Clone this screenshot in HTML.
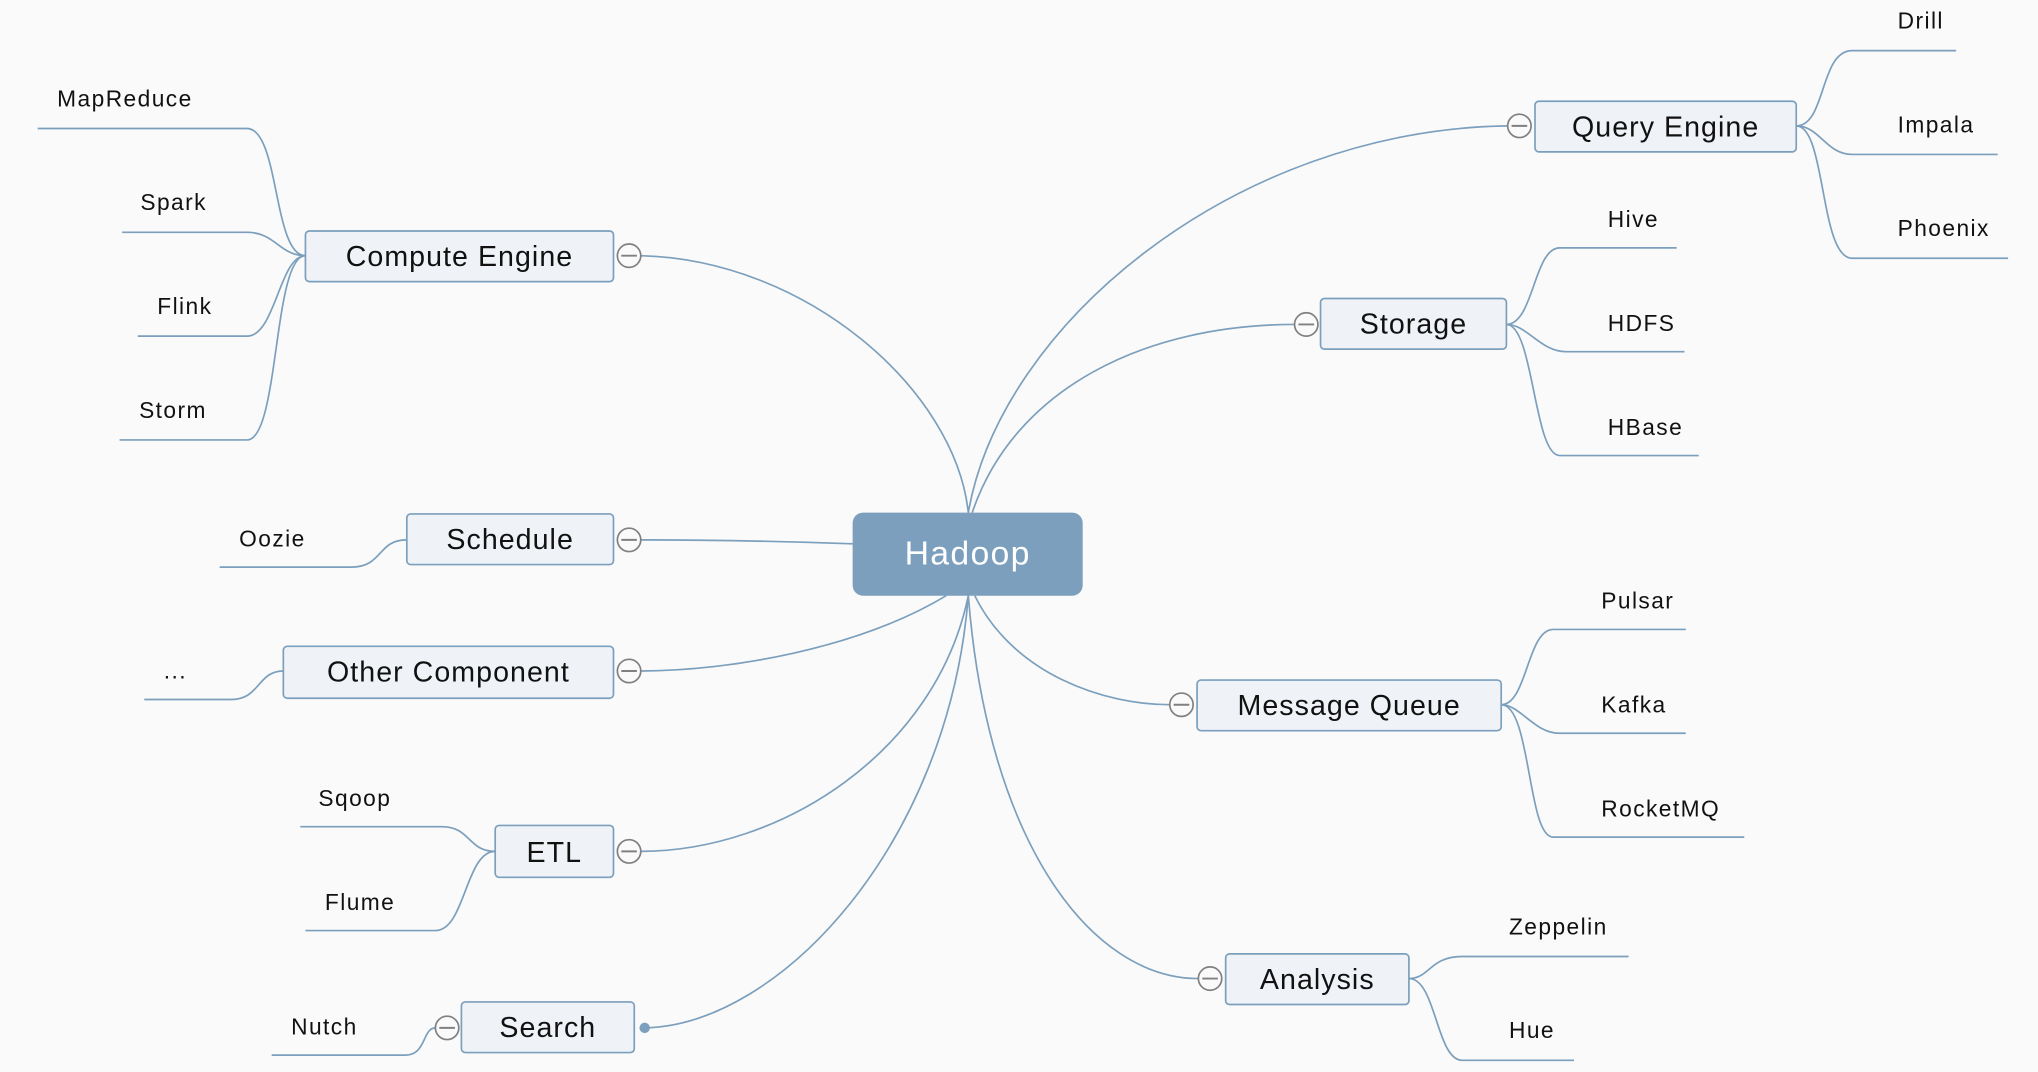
<!DOCTYPE html>
<html><head><meta charset="utf-8"><style>
html,body{margin:0;padding:0;background:#fafafa;}
svg{display:block;}
text{font-family:"Liberation Sans",sans-serif;fill:#111;}
.leaf{font-size:17.5px;letter-spacing:1.1px;}
.box{font-size:22px;text-anchor:middle;letter-spacing:0.8px;}
</style></head><body>
<svg width="2038" height="1072" viewBox="0 0 1568 826" preserveAspectRatio="none" xmlns="http://www.w3.org/2000/svg">
<rect width="1568" height="826" fill="#fafafa"/>
<g fill="none" stroke="#7b9fbc" stroke-width="1.3">
<path d="M745,395 C735,300 620,200 493,197"/>
<path d="M745,395 C770,250 950,100 1160,97"/>
<path d="M748,395 C780,300 880,250 996,250"/>
<path d="M656,419 C600,417 540,416 493,416"/>
<path d="M728,459 C660,500 560,517 493,517"/>
<path d="M745,459 C720,580 600,656 493,656"/>
<path d="M745,459 C730,650 600,790 496,792"/>
<path d="M750,459 C780,520 850,543 900,543"/>
<path d="M745,459 C760,650 840,754 922,754"/>
<path d="M29,99 H190 C215,99 210,197 235,197"/>
<path d="M94,179 H190 C212,179 215,197 235,197"/>
<path d="M106,259 H190 C212,259 215,197 235,197"/>
<path d="M92,339 H190 C215,339 210,197 235,197"/>
<path d="M169,437 H270 C295,437 290,416 313,416"/>
<path d="M111,539 H178 C200,539 198,517 218,517"/>
<path d="M231,637 H340 C362,637 360,656 381,656"/>
<path d="M235,717 H335 C358,717 358,656 381,656"/>
<path d="M209,813 H312 C328,813 325,792 335,792"/>
<path d="M1382,97 C1405,97 1400,39 1425,39 H1505"/>
<path d="M1382,97 C1400,97 1405,119 1425,119 H1537"/>
<path d="M1382,97 C1405,97 1400,199 1425,199 H1545"/>
<path d="M1159,250 C1180,250 1180,191 1200,191 H1290"/>
<path d="M1159,250 C1175,250 1185,271 1205,271 H1296"/>
<path d="M1159,250 C1180,250 1180,351 1200,351 H1307"/>
<path d="M1155,543 C1175,543 1175,485 1195,485 H1297"/>
<path d="M1155,543 C1170,543 1180,565 1200,565 H1297"/>
<path d="M1155,543 C1178,543 1175,645 1195,645 H1342"/>
<path d="M1084,754 C1100,754 1100,737 1125,737 H1253"/>
<path d="M1084,754 C1105,754 1105,817 1125,817 H1211"/>
</g>
<rect x="656" y="395" width="177" height="64" rx="8" fill="#7b9fbc"/>
<text x="744.5" y="435" style="font-size:26px;fill:#fff;text-anchor:middle;letter-spacing:1px">Hadoop</text>
<g fill="#eff3f7" stroke="#7b9fbc" stroke-width="1.3">
<rect x="235" y="178" width="237" height="39" rx="3"/>
<rect x="313" y="396" width="159" height="39" rx="3"/>
<rect x="218" y="498" width="254" height="40" rx="3"/>
<rect x="381" y="636" width="91" height="40" rx="3"/>
<rect x="355" y="772" width="133" height="39" rx="3"/>
<rect x="1181" y="78" width="201" height="39" rx="3"/>
<rect x="1016" y="230" width="143" height="39" rx="3"/>
<rect x="921" y="524" width="234" height="39" rx="3"/>
<rect x="943" y="735" width="141" height="39" rx="3"/>
</g>
<g fill="#fafafa" stroke="#808080" stroke-width="1.3">
<circle cx="484" cy="197" r="9"/><circle cx="484" cy="416" r="9"/><circle cx="484" cy="517" r="9"/>
<circle cx="484" cy="656" r="9"/><circle cx="344" cy="792" r="9"/><circle cx="1169" cy="97" r="9"/>
<circle cx="1005" cy="250" r="9"/><circle cx="909" cy="543" r="9"/><circle cx="931" cy="754" r="9"/>
</g>
<g stroke="#808080" stroke-width="1.5">
<path d="M478,197h12M478,416h12M478,517h12M478,656h12M338,792h12M1163,97h12M999,250h12M903,543h12M925,754h12"/>
</g>
<circle cx="496" cy="792" r="4" fill="#7b9fbc"/>
<text class="box" x="353.5" y="205">Compute Engine</text>
<text class="box" x="392.5" y="423">Schedule</text>
<text class="box" x="345" y="525">Other Component</text>
<text class="box" x="426.5" y="664">ETL</text>
<text class="box" x="421.5" y="799">Search</text>
<text class="box" x="1281.5" y="105">Query Engine</text>
<text class="box" x="1087.5" y="257">Storage</text>
<text class="box" x="1038" y="551">Message Queue</text>
<text class="box" x="1013.5" y="762">Analysis</text>
<text class="leaf" x="44" y="82">MapReduce</text>
<text class="leaf" x="108" y="162">Spark</text>
<text class="leaf" x="121" y="242">Flink</text>
<text class="leaf" x="107" y="322">Storm</text>
<text class="leaf" x="184" y="421">Oozie</text>
<text class="leaf" x="126" y="523">...</text>
<text class="leaf" x="245" y="621">Sqoop</text>
<text class="leaf" x="250" y="701">Flume</text>
<text class="leaf" x="224" y="797">Nutch</text>
<text class="leaf" x="1460" y="22">Drill</text>
<text class="leaf" x="1460" y="102">Impala</text>
<text class="leaf" x="1460" y="182">Phoenix</text>
<text class="leaf" x="1237" y="175">Hive</text>
<text class="leaf" x="1237" y="255">HDFS</text>
<text class="leaf" x="1237" y="335">HBase</text>
<text class="leaf" x="1232" y="469">Pulsar</text>
<text class="leaf" x="1232" y="549">Kafka</text>
<text class="leaf" x="1232" y="629">RocketMQ</text>
<text class="leaf" x="1161" y="720">Zeppelin</text>
<text class="leaf" x="1161" y="800">Hue</text>
</svg>
</body></html>
